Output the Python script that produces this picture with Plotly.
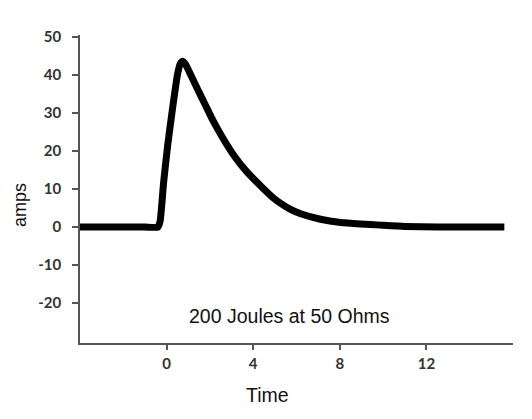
import plotly.graph_objects as go

# Current pulse
time = [-4, -2.0, -1.0, -0.4, -0.3, -0.14, 0.05, 0.27, 0.5, 0.62, 0.74, 0.87,
        1.05, 1.41, 1.79, 2.17, 2.61, 3.10, 3.71, 4.38, 4.94, 5.27, 5.7,
        6.19, 7.11, 8.04, 8.96, 9.88, 11.0, 12.5, 15.6]
amps = [0, 0, 0, 0, 1.5, 11.6, 21.5, 31.0, 40.0, 42.8, 43.6, 42.8,
        40.8, 36.5, 32.1, 27.7, 23.3, 18.9, 14.5, 10.6, 7.6, 6.2, 4.7,
        3.5, 2.05, 1.2, 0.8, 0.5, 0.15, 0, 0]

x_ticks = [0, 4, 8, 12]
y_ticks = [-20, -10, 0, 10, 20, 30, 40, 50]
y_labels = ["-20", "-10", "0", "10", "20", "30", "40", "50"]

axis_color = "#555555"
tick_font = dict(family="Lato", size=15, color="#333333", weight="bold")
text_font = dict(family="Liberation Sans", size=19.5, color="#111111")

# page has an 8px body margin, so the figure is drawn 8px smaller
W, H = 524, 411
L, R, T, B = 72, 19, 27, 76
pw, ph = W - L - R, H - T - B


def px_x(x):
    return (x - 8 - L) / pw


def px_y(y):
    return (H - B + 8 - y) / ph


fig = go.Figure()

fig.add_trace(go.Scatter(
    x=time,
    y=amps,
    mode="lines",
    line=dict(color="black", width=7, shape="spline", smoothing=0.5),
    hoverinfo="skip",
    showlegend=False
))

fig.update_xaxes(
    range=[-4, 16],
    tickvals=x_ticks,
    ticks="outside",
    ticklen=5,
    tickwidth=1.5,
    tickcolor=axis_color,
    tickfont=tick_font,
    ticklabelstandoff=1,
    showline=True,
    linecolor=axis_color,
    linewidth=1.5,
    showgrid=False,
    zeroline=False
)

fig.update_yaxes(
    range=[-30.5, 50.5],
    tickvals=y_ticks,
    ticktext=y_labels,
    ticks="outside",
    ticklen=6,
    tickwidth=1.5,
    tickcolor=axis_color,
    tickfont=tick_font,
    ticklabelstandoff=8,
    showline=True,
    linecolor=axis_color,
    linewidth=1.5,
    showgrid=False,
    zeroline=False
)

fig.update_layout(
    width=W,
    height=H,
    margin=dict(l=L, r=R, t=T, b=B),
    paper_bgcolor="white",
    plot_bgcolor="white",
    annotations=[
        dict(text="200 Joules at 50 Ohms", x=px_x(289), y=px_y(316),
             xref="paper", yref="paper", xanchor="center", yanchor="middle",
             showarrow=False, font=text_font),
        dict(text="Time", x=px_x(267), y=px_y(395),
             xref="paper", yref="paper", xanchor="center", yanchor="middle",
             showarrow=False, font=text_font),
        dict(text="amps", x=px_x(20), y=px_y(205),
             xref="paper", yref="paper", xanchor="center", yanchor="middle",
             showarrow=False, textangle=-90,
             font=dict(family="Liberation Sans", size=18, color="#111111")),
    ]
)

fig.write_html("out.html")
